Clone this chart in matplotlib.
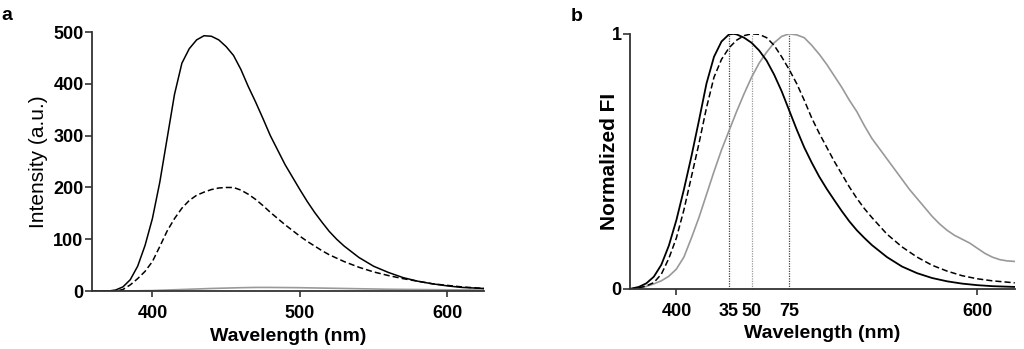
import matplotlib
matplotlib.use('Agg')
import matplotlib.pyplot as plt

plt.rcParams['font.family'] = ['Liberation Sans', 'DejaVu Sans']

# ---- panel a : raw emission intensity (a.u.) ----
a_solid_x = [359, 370, 375, 380, 385, 390, 395, 400, 405, 410, 415, 420, 425, 430, 435, 440,
             445, 450, 455, 460, 465, 470, 475, 480, 485, 490, 495, 500, 505, 510, 515, 520,
             525, 530, 540, 550, 560, 570, 580, 590, 600, 610, 625]
a_solid_y = [0, 0, 2, 8, 22, 48, 88, 140, 210, 295, 380, 440, 468, 485, 493, 492,
             485, 472, 455, 428, 395, 365, 333, 300, 272, 244, 220, 196, 173, 152, 133, 115,
             100, 87, 65, 48, 36, 26, 19, 14, 10, 7, 5]

a_dash_x = [359, 375, 380, 385, 390, 395, 400, 405, 410, 415, 420, 425, 430, 435, 440, 445,
            450, 455, 460, 465, 470, 475, 480, 485, 490, 495, 500, 505, 510, 515, 520, 530,
            540, 550, 560, 570, 580, 590, 600, 610, 625]
a_dash_y = [0, 0, 3, 12, 24, 38, 57, 86, 116, 140, 160, 175, 185, 191, 196, 199,
            200, 200, 195, 187, 177, 165, 152, 140, 128, 117, 106, 96, 87, 78, 70, 57,
            46, 37, 30, 24, 19, 14, 11, 8, 5]

a_gray_x = [359, 380, 400, 420, 440, 460, 470, 480, 500, 520, 540, 560, 580, 600, 625]
a_gray_y = [0, 0, 1, 3, 5, 6.5, 7, 7, 6.5, 5.5, 4.5, 3.5, 3, 2.5, 2]

# ---- panel b : normalized FI ----
b_solid_x = [369, 375, 380, 385, 390, 395, 400, 405, 410, 415, 420, 425, 430, 435, 438, 440,
             445, 450, 455, 460, 465, 470, 475, 480, 485, 490, 495, 500, 505, 510, 515, 520,
             525, 530, 540, 550, 560, 570, 580, 590, 600, 610, 625]
b_solid_y = [0, 0.008, 0.022, 0.048, 0.095, 0.17, 0.27, 0.39, 0.52, 0.66, 0.805, 0.91, 0.97,
             0.998, 1.0, 0.998, 0.985, 0.965, 0.935, 0.895, 0.84, 0.775, 0.7, 0.625, 0.555,
             0.495, 0.44, 0.392, 0.348, 0.305, 0.265, 0.23, 0.2, 0.172, 0.125, 0.088, 0.062,
             0.043, 0.03, 0.021, 0.015, 0.011, 0.008]

b_dash_x = [369, 375, 380, 385, 390, 395, 400, 405, 410, 415, 420, 425, 430, 435, 440, 445,
            450, 455, 460, 465, 470, 475, 480, 485, 490, 495, 500, 505, 510, 515, 520, 525,
            530, 540, 550, 560, 570, 580, 590, 600, 610, 625]
b_dash_y = [0, 0.004, 0.012, 0.025, 0.058, 0.12, 0.2, 0.31, 0.44, 0.57, 0.71, 0.83, 0.9,
            0.945, 0.975, 0.993, 1.0, 0.998, 0.985, 0.955, 0.91, 0.86, 0.805, 0.74, 0.67,
            0.61, 0.555, 0.5, 0.45, 0.4, 0.355, 0.315, 0.28, 0.215, 0.165, 0.125, 0.093,
            0.07, 0.052, 0.04, 0.032, 0.024]

b_gray_x = [369, 375, 380, 385, 390, 395, 400, 405, 410, 415, 420, 425, 430, 435, 440, 445,
            450, 455, 460, 465, 470, 475, 480, 485, 490, 495, 500, 505, 510, 515, 520, 525,
            530, 535, 540, 545, 550, 555, 560, 565, 570, 575, 580, 585, 590, 595, 600, 605,
            610, 615, 620, 625]
b_gray_y = [0, 0.003, 0.01, 0.02, 0.032, 0.05, 0.078, 0.125, 0.2, 0.28, 0.37, 0.46, 0.545,
            0.62, 0.695, 0.765, 0.83, 0.885, 0.928, 0.965, 0.99, 1.0, 0.996, 0.985, 0.955,
            0.92, 0.88, 0.835, 0.79, 0.74, 0.695, 0.64, 0.59, 0.55, 0.51, 0.47, 0.43, 0.39,
            0.355, 0.32, 0.285, 0.255, 0.23, 0.21, 0.195, 0.18, 0.16, 0.14, 0.125, 0.115,
            0.11, 0.108]

peak_pos = [435, 450, 475]
peak_labels = ['35', '50', '75']
peak_colors = ['#444444', '#999999', '#444444']


def style_axes(ax):
    for s in ['top', 'right']:
        ax.spines[s].set_visible(False)
    for s in ['left', 'bottom']:
        ax.spines[s].set_linewidth(1.3)
        ax.spines[s].set_color('#333333')
    ax.tick_params(axis='both', direction='out', width=1.2, color='#333333',
                   labelsize=13)
    ax.tick_params(axis='x', length=4, pad=6)
    ax.tick_params(axis='y', length=5, pad=1)
    for lab in ax.get_xticklabels() + ax.get_yticklabels():
        lab.set_fontweight('bold')


fig = plt.figure(figsize=(10.24, 3.49), dpi=100)

# panel a
ax1 = fig.add_axes([0.0898, 0.166, 0.383, 0.742])
ax1.plot(a_gray_x, a_gray_y, color='#999999', lw=1.2)
ax1.plot(a_dash_x, a_dash_y, color='black', lw=1.1, ls=(0, (4, 2)))
ax1.plot(a_solid_x, a_solid_y, color='black', lw=1.1)
ax1.set_xlim(359, 625)
ax1.set_ylim(0, 500)
ax1.set_xticks([400, 500, 600])
ax1.set_yticks([0, 100, 200, 300, 400, 500])
style_axes(ax1)
ax1.set_xlabel('Wavelength (nm)', fontsize=14, fontweight='bold', labelpad=4)
ax1.set_ylabel('Intensity (a.u.)', fontsize=15, labelpad=4)

# panel b
ax2 = fig.add_axes([0.615, 0.172, 0.376, 0.731])
for p, c in zip(peak_pos, peak_colors):
    ax2.vlines(p, 0, 1, colors=c, linestyles=(0, (1, 1)), lw=0.9)
ax2.plot(b_gray_x, b_gray_y, color='#999999', lw=1.2)
ax2.plot(b_dash_x, b_dash_y, color='black', lw=1.1, ls=(0, (4, 2)))
ax2.plot(b_solid_x, b_solid_y, color='black', lw=1.3)
ax2.set_xlim(369, 625)
ax2.set_ylim(0, 1)
ax2.set_xticks([400, 600])
ax2.set_xticks(peak_pos, minor=True)
ax2.set_xticklabels(peak_labels, minor=True)
ax2.set_yticks([0, 1])
style_axes(ax2)
ax2.tick_params(axis='x', which='minor', length=0, pad=10, labelsize=13)
for lab in ax2.get_xticklabels(minor=True):
    lab.set_fontweight('bold')
ax2.set_xlabel('Wavelength (nm)', fontsize=14, fontweight='bold', labelpad=4)
ax2.set_ylabel('Normalized FI', fontsize=15, fontweight='bold')
ax2.yaxis.set_label_coords(-0.028, 0.5)

fig.text(0.001, 0.943, 'a', fontsize=14, fontweight='bold', va='baseline')
fig.text(0.557, 0.94, 'b', fontsize=14, fontweight='bold', va='baseline')

fig.savefig('out.png', dpi=100)
